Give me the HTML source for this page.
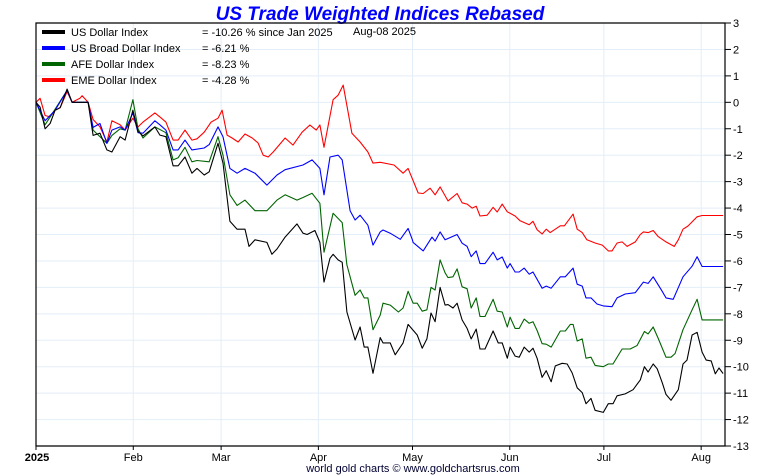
<!DOCTYPE html>
<html><head><meta charset="utf-8">
<style>
body{margin:0;background:#fff;}
svg{display:block;font-family:"Liberation Sans",sans-serif;}
</style></head>
<body>
<svg id="chart" width="760" height="475" xmlns="http://www.w3.org/2000/svg">
<text x="380" y="20" text-anchor="middle" font-size="19" font-weight="bold" font-style="italic" fill="#0000ff">US Trade Weighted Indices Rebased</text>
<g id="grid"></g>
<g id="series"></g>
<g id="axes"></g>
<g id="legend"></g>
<text x="353" y="35" font-size="11" fill="#000">Aug-08  2025</text>
<text x="413" y="472" text-anchor="middle" font-size="11" fill="#000033">world gold charts © www.goldchartsrus.com</text>
</svg>
<script>
const monthLabels = ["2025","Feb","Mar","Apr","May","Jun","Jul","Aug"];
const monthDays = [0,31,59,90,120,151,181,212];
const yTicks = [3,2,1,0,-1,-2,-3,-4,-5,-6,-7,-8,-9,-10,-11,-12,-13];
const seriesNames = ["US Dollar Index","US Broad Dollar Index","AFE Dollar Index","EME Dollar Index"];
const seriesLabels = ["= -10.26 % since Jan 2025","= -6.21 %","= -8.23 %","= -4.28 %"];
const seriesColors = ["#000000","#0000ff","#006400","#ff0000"];

const blackDays = [0,1.3,2.9,4.5,6.1,7.7,9.9,11.5,14,16.6,
18.2,20.4,22.6,24.2,26.8,28.4,30.9,32.5,34.1,37.9,
39.5,41.4,43.7,45.3,47.5,49.7,51.3,53.6,55.2,58,
59.6,61.8,64.1,66.6,67.9,69.8,73.6,75.2,76.8,79.4,
83.2,85.1,86.4,88.9,90.5,91.8,93.7,94.7,96.3,97.6,
99.1,101.7,103.3,104.6,105.8,107.4,109.7,110.6,112.9,114.5,
117,118.6,121.5,123.1,124.6,125.9,127.2,128.8,130.4,131.3,
132.9,134.2,135.8,137.4,138.7,140.3,141.5,143.1,145.7,147.3,
148.6,150.2,151.1,152.7,154,155.6,157.2,158.4,159.7,161.3,
162.6,164.2,165.5,167.7,169.3,170.9,172.5,174.1,175.3,176.9,
178.2,180.8,182.4,183.9,185.2,187.8,190.3,192.6,193.9,195.1,
196.7,198,199.6,200.8,202.4,204.7,206.2,207.5,209.1,210.7,
212.3,213.6,215.2,216.5,217.7,219];
const blackValues = [0,-0.18,-1.0,-0.8,-0.3,-0.2,0.5,0,0,0,
-1.25,-1.17,-1.8,-1.88,-1.3,-1.43,-0.3,-1.1,-1.27,-0.93,
-1.24,-1.3,-2.4,-2.4,-2.07,-2.68,-2.5,-2.75,-2.63,-1.55,
-2.3,-4.5,-4.8,-4.8,-5.45,-5.2,-5.3,-5.75,-5.55,-5.1,
-4.6,-4.95,-5.0,-4.85,-5.3,-6.8,-5.9,-5.75,-5.96,-6.05,
-7.93,-8.99,-8.5,-9.26,-9.26,-10.25,-8.9,-9.1,-9.1,-9.55,
-9.1,-8.4,-8.8,-9.3,-8.95,-7.97,-8.3,-7.0,-7.67,-7.65,
-7.78,-7.6,-8.23,-8.55,-8.95,-8.58,-9.33,-9.33,-8.65,-9.1,
-9.1,-9.68,-9.26,-9.6,-9.64,-9.26,-9.45,-9.3,-9.68,-10.4,
-10.15,-10.57,-9.97,-9.87,-9.9,-10.24,-10.8,-10.98,-11.4,-11.2,
-11.65,-11.73,-11.4,-11.4,-11.1,-11.03,-10.87,-10.5,-10.0,-10.2,
-9.9,-10.08,-10.6,-11.05,-11.27,-10.87,-9.9,-9.75,-8.8,-8.7,
-9.45,-9.75,-9.78,-10.27,-10.05,-10.26];

const blueDays = [0,2.9,6.1,9.9,11.5,16.6,18.2,20.4,22.6,24.2,
26.8,28.4,30.9,32.5,34.1,37.9,39.5,41.4,43.7,45.3,
47.5,49.7,53.6,55.2,58,59.6,61.8,64.1,66.6,69.8,
73.6,76.8,79.4,85.1,88,90.5,91.8,93.7,96.3,97.6,
100.1,101.7,103.3,105.8,107.4,109.7,110.6,112.9,116.1,118.6,
119.9,120.2,123.4,126.2,127.2,128.8,130.4,131.3,134.2,135.8,
137.4,138.7,140.3,141.5,143.1,145.7,147,148.6,150.2,151.1,
152.7,154,155.6,157.2,158.4,161.3,162.6,164.2,167.1,168.7,
171.2,172.5,174.1,175.3,176.9,178.8,180.8,183.6,185.2,187.8,
191,193.6,195.1,196.7,199.6,200.8,203.1,206.2,209.1,210.7,
212.3,219];
const blueValues = [0,-0.7,-0.3,0.45,0,0,-0.95,-0.8,-1.55,-1.05,
-0.93,-1.05,-0.4,-1.15,-1.17,-0.7,-0.85,-1.05,-1.8,-1.8,
-1.43,-1.8,-1.73,-1.6,-0.93,-1.3,-2.5,-2.68,-2.5,-2.68,
-3.13,-2.75,-2.55,-2.37,-2.18,-2.5,-3.5,-2.07,-2.0,-2.18,
-4.1,-4.45,-4.27,-4.65,-5.4,-4.9,-4.83,-4.95,-5.18,-4.77,
-5.18,-5.3,-5.62,-5.1,-5.25,-4.9,-5.2,-5.15,-5.0,-5.33,
-5.45,-5.84,-5.62,-6.1,-6.1,-5.67,-5.96,-5.85,-6.27,-6.1,
-6.42,-6.42,-6.27,-6.5,-6.42,-7.03,-6.95,-7.03,-6.6,-6.6,
-6.27,-6.88,-6.95,-7.4,-7.4,-7.63,-7.7,-7.73,-7.4,-7.25,
-7.2,-6.8,-6.85,-6.6,-7.15,-7.4,-7.45,-6.6,-6.2,-5.84,
-6.21,-6.21];

const greenDays = [0,2.9,9.9,11.5,16.6,18.2,22.6,24.2,26.8,28.4,
30.9,32.5,34.1,37.9,41.4,43.7,45.3,47.5,49.7,51.3,
55.2,58,59.6,61.8,64.1,66.6,69.8,73.6,76.8,79.4,
83.2,85.1,88,90.5,91.8,94.7,97.6,99.1,101.7,103.3,
104.6,105.8,107.4,109.7,110.6,112.9,115.5,117,118.6,120.2,
121.5,123.1,124.6,125.9,127.2,128.8,130.4,131.3,132.9,134.2,
135.8,137.4,138.7,140.3,141.5,143.1,145.7,147,148.6,150.2,
151.1,152.7,154,155.6,157.2,158.4,159.7,161.3,162.6,164.2,
167.1,168.7,170.3,171.2,172.5,174.1,175.3,176.9,178.2,180.8,
182.4,183.9,186.8,189.4,191.6,193.9,195.1,196.7,198.3,200.8,
202.4,203.7,206.2,209.1,210.7,212.3,219];
const greenValues = [0,-0.85,0.45,0,0,-1.05,-1.55,-1.25,-1.0,-1.05,
0.1,-1.0,-1.35,-0.93,-1.15,-2.18,-2.1,-1.7,-2.25,-2.2,
-2.25,-1.3,-2.0,-3.5,-3.9,-3.7,-4.1,-4.1,-3.7,-3.5,
-3.7,-3.6,-3.44,-3.82,-5.67,-4.2,-4.55,-6.15,-7.3,-7.1,
-7.4,-7.4,-8.6,-8.05,-7.6,-7.67,-7.93,-7.78,-7.15,-7.6,
-7.6,-7.9,-7.85,-7.0,-7.1,-5.96,-6.45,-6.63,-6.6,-6.3,
-6.98,-7.05,-7.78,-7.4,-8.1,-8.1,-7.45,-7.9,-7.93,-8.5,
-8.13,-8.55,-8.55,-8.2,-8.36,-8.3,-8.63,-9.13,-9.15,-9.26,
-8.65,-8.65,-8.4,-8.4,-9.03,-8.95,-9.68,-9.64,-9.95,-10.0,
-9.9,-9.9,-9.33,-9.33,-9.2,-8.67,-8.76,-8.5,-8.93,-9.64,
-9.64,-9.5,-8.6,-7.85,-7.45,-8.23,-8.23];

const redDays = [0,1.3,2.9,4.5,6.1,7.7,9.9,11.5,14,14.7,
16.6,18.2,20.4,22.6,24.2,26.8,28.4,30.9,32.5,34.1,
37.9,39.5,41.4,43.7,45.3,47.5,49.7,51.3,53.6,55.8,
58,59.3,60.9,62.5,64.4,66.6,68.9,70.8,72.4,74,
75.6,79.4,81.9,84.8,87.3,89.3,90.5,91.8,94.7,96.3,
97.9,100.7,103.3,105.8,107.4,109.7,114.1,117,118.6,121.8,
123.4,125.6,127.2,128.8,131.3,134.2,135.8,137.4,139,140.3,
141.5,143.8,145.7,147,148.6,150.2,152.7,154.3,157.2,158.4,
159.7,161.3,162.6,163.9,167.1,168.4,171.2,172.5,174.1,175.6,
178.2,180.5,182.4,183.6,185.2,186.8,188.4,191,192.6,193.6,
195.1,196.7,198.3,200.8,203.4,204.7,206.2,207.8,210.7,212.3,
219];
const redValues = [0,0.15,-0.5,-0.55,-0.3,-0.2,0.4,0,0.15,0.25,
0,-0.65,-0.93,-1.5,-0.7,-0.85,-1.05,-0.6,-0.93,-0.75,
-0.4,-0.55,-0.75,-1.43,-1.43,-1.05,-1.43,-1.38,-1.13,-0.75,
-0.6,-0.3,-1.24,-1.35,-1.5,-1.2,-1.35,-1.54,-2.0,-2.07,
-1.88,-1.35,-1.62,-1.13,-0.86,-1.05,-0.86,-1.7,0.1,0.27,
0.65,-1.17,-1.5,-1.88,-2.3,-2.27,-2.37,-2.68,-2.5,-3.43,
-3.45,-3.25,-3.5,-3.2,-3.73,-3.45,-3.8,-3.85,-4.0,-3.93,
-4.3,-4.27,-3.97,-4.15,-3.85,-4.14,-4.3,-4.48,-4.63,-4.5,
-4.82,-4.98,-4.8,-4.93,-4.67,-4.67,-4.23,-4.8,-4.93,-5.2,
-5.32,-5.4,-5.62,-5.62,-5.32,-5.28,-5.45,-5.28,-5.0,-4.9,
-4.93,-4.85,-5.08,-5.28,-5.45,-5.2,-4.8,-4.68,-4.33,-4.28,
-4.28];

const NS = "http://www.w3.org/2000/svg";
const L = 36, R = 725, T = 23, B = 446;
const dayMax = 219.6, yMin = -13, yMax = 3;
function xScale(d){ return L + d * (R - L) / dayMax; }
function yScale(v){ return T + (yMax - v) * (B - T) / (yMax - yMin); }
function mk(tag, attrs, parent){ const e = document.createElementNS(NS, tag); for (const k in attrs) e.setAttribute(k, attrs[k]); parent.appendChild(e); return e; }

const grid = document.getElementById('grid');
const axes = document.getElementById('axes');
const series = document.getElementById('series');
const legend = document.getElementById('legend');

yTicks.forEach(function(t){
  const y = yScale(t);
  if (t !== yMax && t !== yMin) {
    const g = mk('line', {x1:L, x2:R, y1:y, y2:y, stroke:'#e3eef8', 'stroke-width':1}, grid);
    
    
  }
  const tk = mk('line', {x1:R, x2:R+6, y1:y, y2:y, stroke:'#000', 'stroke-width':1}, axes);
  
  
  const tl = mk('text', {x:R+8, y:y+4, 'font-size':11, fill:'#000'}, axes);
  tl.textContent = String(t);
  
  
});

monthDays.forEach(function(d, i){
  const x = xScale(d);
  if (i > 0) {
    const g = mk('line', {x1:x, x2:x, y1:T, y2:B, stroke:'#e3eef8', 'stroke-width':1}, grid);
    
    
  }
  const tk = mk('line', {x1:x, x2:x, y1:B, y2:B+4, stroke:'#000', 'stroke-width':1}, axes);
  
  
  const tl = mk('text', {x:i===0 ? x+1 : x, y:B+15, 'font-size':11, 'text-anchor':'middle', fill:'#000', 'font-weight': i===0 ? 'bold' : 'normal'}, axes);
  tl.textContent = monthLabels[i];
  
  
});

const frame = mk('path', {d:'M'+L+' '+T+' H'+R+' V'+B+' H'+L+' Z', fill:'none', stroke:'#000', 'stroke-width':1.2}, axes);



const allDays = [blackDays, blueDays, greenDays, redDays];
const allValues = [blackValues, blueValues, greenValues, redValues];
const seriesKeys = ['us-dollar-index-line','us-broad-dollar-index-line','afe-dollar-index-line','eme-dollar-index-line'];
[3,2,1,0].forEach(function(s){
  const ds = allDays[s], vs = allValues[s];
  const n = Math.min(ds.length, vs.length);
  let p = '';
  for (let i = 0; i < n; i++) p += (i ? 'L' : 'M') + xScale(ds[i]).toFixed(1) + ' ' + yScale(vs[i]).toFixed(1);
  const line = mk('path', {d:p, fill:'none', stroke:seriesColors[s], 'stroke-width':1.1, 'stroke-linejoin':'round'}, series);
  
  
});

seriesNames.forEach(function(name, i){
  const y = 32 + i * 16;
  const sw = mk('line', {x1:42, x2:65, y1:y, y2:y, stroke:seriesColors[i], 'stroke-width':4}, legend);
  
  
  const t = mk('text', {x:71, y:y+4, 'font-size':11, fill:'#000'}, legend);
  t.textContent = name;
  
  
  const v = mk('text', {x:202, y:y+4, 'font-size':11, fill:'#000'}, legend);
  v.textContent = seriesLabels[i];
  
  
});
</script>
</body></html>
